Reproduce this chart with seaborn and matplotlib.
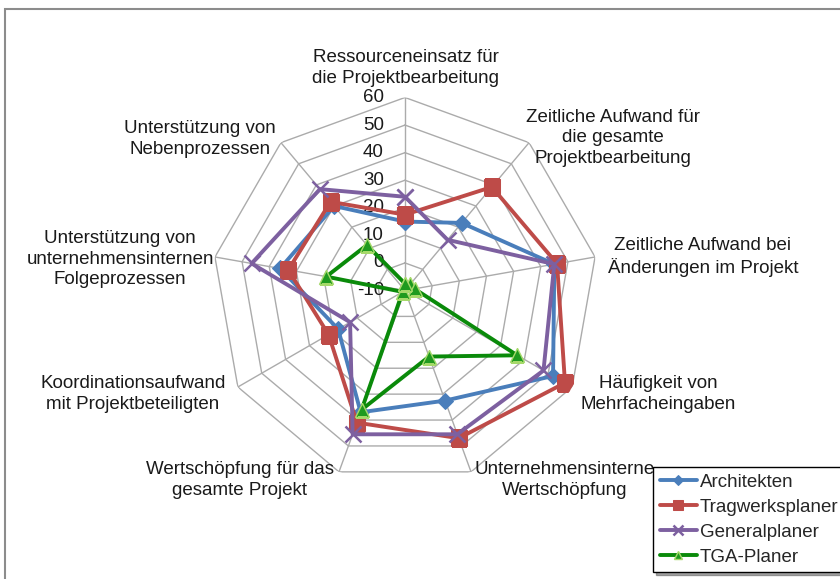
import numpy as np
import pandas as pd
import matplotlib
matplotlib.use("Agg")
import matplotlib.pyplot as plt
from matplotlib.patches import Rectangle
import seaborn as sns

categories = [
    "Ressourceneinsatz für\ndie Projektbearbeitung",
    "Zeitliche Aufwand für\ndie gesamte\nProjektbearbeitung",
    "Zeitliche Aufwand bei\nÄnderungen im Projekt",
    "Häufigkeit von\nMehrfacheingaben",
    "Unternehmensinterne\nWertschöpfung",
    "Wertschöpfung für das\ngesamte Projekt",
    "Koordinationsaufwand\nmit Projektbeteiligten",
    "Unterstützung von\nunternehmensinternen\nFolgeprozessen",
    "Unterstützung von\nNebenprozessen",
]
architekten = [15, 22, 45, 52, 32.5, 37, 18, 36, 30]
tragwerksplaner = [17.5, 39, 46, 57, 47, 41, 22, 33, 32]
generalplaner = [24, 14, 45, 48, 45.5, 45.5, 13, 46.5, 38]
tga_planer = [-7.5, -7, -6.5, 37, 15.5, 36, -9, 19, 11.5]
series_names = ["Architekten", "Tragwerksplaner", "Generalplaner", "TGA-Planer"]
r_ticks = [-10, 0, 10, 20, 30, 40, 50, 60]

sns.set_style("white")
plt.rcParams["font.family"] = ["Liberation Sans", "DejaVu Sans"]

W, H = 840, 579
fig = plt.figure(figsize=(W / 100, H / 100), dpi=100)
fig.patch.set_facecolor("white")


def px(x, y):
    return x / W, 1 - y / H


# polar axes: centre (405, 290.5), radius ~193 px
cx, cy, rad = 405, 290.5, 193
ax = fig.add_axes([(cx - rad) / W, 1 - (cy + rad) / H, 2 * rad / W, 2 * rad / H],
                  projection="polar")
ax.set_theta_zero_location("N")
ax.set_theta_direction(-1)
ax.set_ylim(r_ticks[0], r_ticks[-1])
ax.grid(False)
ax.spines["polar"].set_visible(False)
ax.set_xticks([])
ax.set_yticks([])
ax.set_facecolor("none")

n = len(categories)
theta = np.linspace(0, 2 * np.pi, n, endpoint=False)
theta_closed = np.append(theta, theta[0] + 2 * np.pi)

# polygon grid and spokes
grid_col = "#ababab"
for v in r_ticks[1:]:
    ax.plot(theta_closed, [v] * (n + 1), color=grid_col, lw=1.0, zorder=1)
for t in theta:
    ax.plot([t, t], [r_ticks[0], r_ticks[-1]], color=grid_col, lw=1.0, zorder=1)

# radial tick labels along the top spoke
for v in r_ticks:
    ax.annotate(str(v), xy=(0, v), xytext=(-21, 0), textcoords="offset pixels",
                ha="right", va="center", fontsize=13.5, color="#1a1a1a",
                annotation_clip=False)

styles = {
    "Architekten": dict(color="#4a7ebb", marker="D", markersize=8,
                        markeredgecolor="#4a7ebb"),
    "Tragwerksplaner": dict(color="#be4b48", marker="s", markersize=11,
                            markeredgecolor="#be4b48"),
    "Generalplaner": dict(color="#7d60a0", marker="x", markersize=12,
                          markeredgewidth=1.8, markeredgecolor="#7d60a0"),
    "TGA-Planer": dict(color="#0a8a0a", marker="^", markersize=10,
                       markerfacecolor="#1f9a1f", markeredgecolor="#a6d96a",
                       markeredgewidth=1.0),
}

values = [architekten, tragwerksplaner, generalplaner, tga_planer]
rows = []
for name, vals in zip(series_names, values):
    closed = list(vals) + [vals[0]]
    for i, (t, v) in enumerate(zip(theta_closed, closed)):
        rows.append({"serie": name, "theta": t, "wert": v, "idx": i})
df = pd.DataFrame(rows)

for name in series_names:
    sub = df[df["serie"] == name]
    sns.lineplot(data=sub, x="theta", y="wert", sort=False, ax=ax,
                 linewidth=2.8, label=name, zorder=3, **styles[name])

# category labels
label_pos = [
    (406, 68), (613, 138), (703, 257), (658, 394), (565, 480),
    (240, 480), (133, 394), (120, 259), (200, 139),
]
for text, (x, y) in zip(categories, label_pos):
    fig.text(*px(x, y), text, ha="center", va="center", fontsize=13.5,
             color="#1a1a1a", linespacing=1.28)

# legend
handles, labels = ax.get_legend_handles_labels()
ax.get_legend().remove()
leg = fig.legend(handles, labels, loc="upper left", bbox_to_anchor=px(653, 467),
                 fontsize=13.5, frameon=True, fancybox=False, shadow=True,
                 handlelength=2.0, handletextpad=0.15, labelspacing=0.42,
                 borderpad=0.35, markerscale=0.6, borderaxespad=0)
leg.get_frame().set_edgecolor("black")
leg.get_frame().set_linewidth(1.0)

# chart-area border
fig.add_artist(Rectangle(px(5, 600), 1.2, (600 - 9) / H, transform=fig.transFigure,
                         fill=False, edgecolor="#8c8c8c", lw=1.5))

fig.savefig("out.png", dpi=100)
